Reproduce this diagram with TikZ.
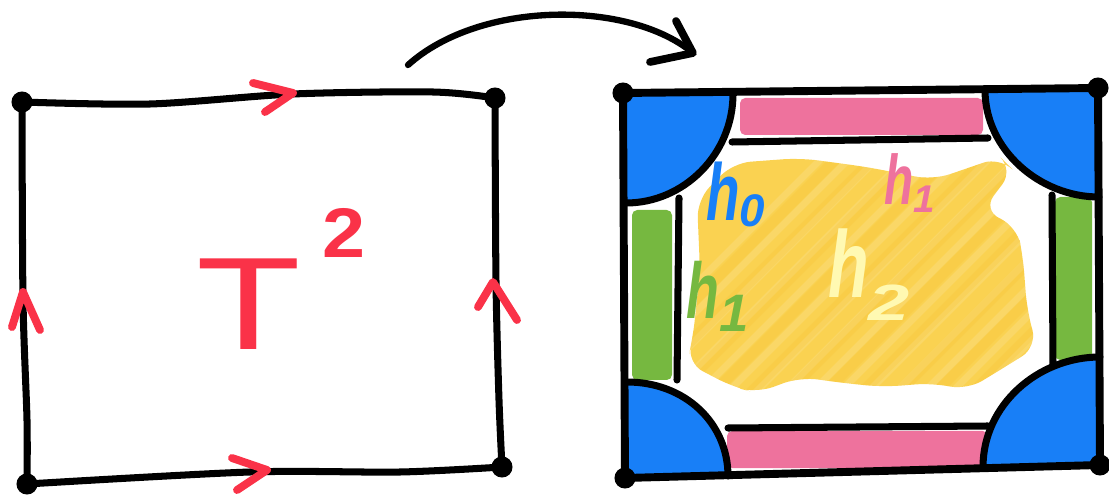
\documentclass[tikz,border=0pt]{standalone}
\usepackage{fontspec}
\setmainfont{Liberation Sans}
\usepackage{graphicx}
\definecolor{cblue}{RGB}{24,127,247}
\definecolor{cpink}{RGB}{238,114,157}
\definecolor{cgreen}{RGB}{118,184,64}
\definecolor{cyellow}{RGB}{250,206,66}
\definecolor{cyellowd}{RGB}{245,190,40}
\definecolor{clight}{RGB}{255,249,178}
\definecolor{cred}{RGB}{250,50,72}
\begin{document}
\begin{tikzpicture}[x=0.02cm,y=-0.02cm,
  edge/.style={line width=4pt, line cap=round, line join=round},
  dot/.style={circle, fill=black, inner sep=0pt, minimum size=12pt},
  chev/.style={draw=cred, line width=4.5pt, line cap=round, line join=round},
  lab/.style={anchor=base west, inner sep=0pt}]
\useasboundingbox (0,0) rectangle (1109,496);

% ---------- left square (T^2) ----------
\node[dot] (A) at (22,102) {};
\node[dot] (B) at (495,98) {};
\node[dot] (C) at (502,467) {};
\node[dot] (D) at (27,484) {};
\draw[edge] plot[smooth] coordinates {(A.center) (150,104) (293,94) (433,92) (B.center)};
\draw[edge] plot[smooth] coordinates {(A.center) (23,300) (27,420) (D.center)};
\draw[edge] plot[smooth] coordinates {(B.center) (496,282) (499,400) (C.center)};
\draw[edge] plot[smooth] coordinates {(D.center) (250,472) (400,472) (C.center)};
% edge arrows
\draw[chev] (253,83) -- (293,93) -- (265,112);
\draw[chev] (232,458) -- (267,470) -- (237,490);
\draw[chev] (12,327) -- (23,292) -- (40,330);
\draw[chev] (478,307) -- (493,282) -- (517,320);
% label
\node[lab, text=cred, font=\fontsize{75}{75}\selectfont] (T) at (196,350)
  {\scalebox{1.3}[1]{T}\hspace{12pt}\raisebox{52.5pt}{\fontsize{40}{40}\selectfont\bfseries\scalebox{1.1}[1]{2}}};

% ---------- curved arrow ----------
\coordinate (arS) at (408,65);
\coordinate (arE) at (693,53);
\draw[line width=3.6pt, line cap=round] (arS) .. controls (480,0) and (630,0) .. (arE);
\draw[line width=4.4pt, line cap=round, line join=round] (676,21) -- (arE) -- (650,62);

% ---------- right square ----------
\coordinate (E) at (623,93);
\coordinate (F) at (1098,88);
\coordinate (G) at (1100,465);
\coordinate (H) at (625,478);

% yellow scribble
\def\blob{(697,200) -- (733,163) -- (800,158) -- (867,167) -- (933,180) -- (1000,157) -- (1013,170)
  -- (983,210) -- (1017,227) -- (1023,257) -- (1027,310) -- (1037,347) -- (1000,370)
  -- (967,390) -- (933,383) -- (883,387) -- (843,383) -- (800,377) -- (757,393)
  -- (733,387) -- (687,363) -- (693,337) -- (700,270) -- cycle}
\fill[cyellow, opacity=0.92, rounded corners=10pt] \blob;
\begin{scope}
  \clip[rounded corners=10pt] \blob;
  \foreach \i in {0,...,16}
    \draw[white, opacity=0.13, line width=4pt, line cap=round] (560+\i*28,420) -- ++(280,-280);
  \foreach \i in {0,...,12}
    \draw[cyellowd, opacity=0.18, line width=6pt, line cap=round] (575+\i*37,420) -- ++(280,-280);
\end{scope}

% bands
\fill[cpink, rounded corners=3pt] (740,98) rectangle (983,135);
\fill[cpink, rounded corners=3pt] (727,431) rectangle (988,468);
\fill[cgreen, rounded corners=3pt] (632,210) rectangle (672,380);
\fill[cgreen, rounded corners=3pt] (1055,197) rectangle (1092,360);

% blue corners
\fill[cblue] (E) -- (733,94) .. controls (733,154) and (684,203) .. (626,203) -- cycle;
\fill[cblue] (F) -- (985,90) .. controls (985,150) and (1040,197) .. (1099,197) -- cycle;
\fill[cblue] (H) -- (728,476) .. controls (728,423) and (685,382) .. (627,382) -- cycle;
\fill[cblue] (G) -- (983,467) .. controls (983,405) and (1038,357) .. (1100,357) -- cycle;

% arcs
\draw[edge] (733,94) .. controls (733,154) and (684,203) .. (626,203);
\draw[edge] (985,90) .. controls (985,150) and (1040,197) .. (1099,197);
\draw[edge] (728,476) .. controls (728,423) and (685,382) .. (627,382);
\draw[edge] (983,467) .. controls (983,405) and (1038,357) .. (1100,357);

% inner lines
\draw[edge] (732,142) -- (988,138);
\draw[edge] (728,428) -- (988,426);
\draw[edge] (679,198) -- (677,380);
\draw[edge] (1052,195) -- (1053,365);

% outer square
\draw[line width=4.5pt, line cap=round, line join=round] (E) -- (F) -- (G) -- (H) -- cycle;
\node[dot] (Ed) at (E) {};
\node[dot] (Fd) at (F) {};
\node[dot] (Gd) at (G) {};
\node[dot] (Hd) at (H) {};

% labels
\node[lab, text=cblue, font=\fontsize{46}{46}\selectfont\bfseries\itshape] (h0) at (706,221)
  {\scalebox{0.68}[1]{h}\raisebox{-3.4pt}{\fontsize{26}{26}\selectfont 0}};
\node[lab, text=cpink, font=\fontsize{40}{40}\selectfont\bfseries\itshape] (h1a) at (884,205)
  {\scalebox{0.68}[1]{h}\raisebox{-4.5pt}{\fontsize{22}{22}\selectfont 1}};
\node[lab, text=clight, font=\fontsize{54}{54}\selectfont\bfseries\itshape] (h2) at (828,298)
  {\scalebox{0.7}[1]{h}\raisebox{-13pt}{\fontsize{29}{29}\selectfont\scalebox{1.45}[1]{2}}};
\node[lab, text=cgreen, font=\fontsize{45}{45}\selectfont\bfseries\itshape] (h1b) at (686,319)
  {\scalebox{0.68}[1]{h}\raisebox{-7pt}{\fontsize{30}{30}\selectfont 1}};
\end{tikzpicture}
\end{document}
